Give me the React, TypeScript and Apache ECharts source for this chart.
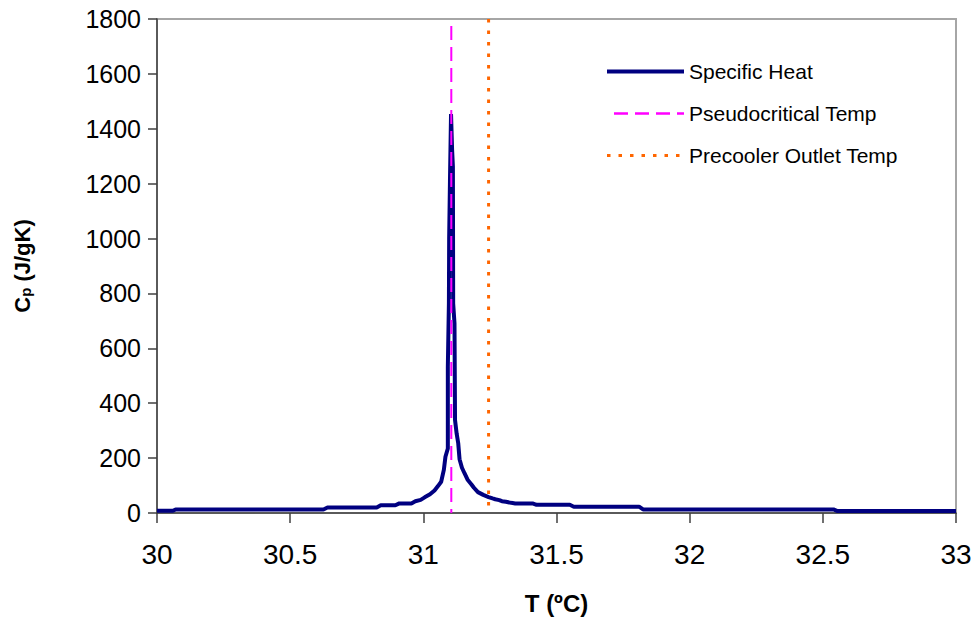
import React, { useEffect, useRef } from "react";
import * as echarts from "echarts";

// Specific heat of CO2 near the pseudocritical point
const temperatures: number[] = [
  30.0, 30.06, 30.07, 30.625, 30.64, 30.825, 30.84, 30.895, 30.91, 30.955,
  30.97, 30.99, 31.005, 31.025, 31.042, 31.055, 31.067, 31.077, 31.083, 31.092,
  31.092, 31.096, 31.097, 31.1, 31.104, 31.108, 31.111, 31.112, 31.117, 31.119,
  31.125, 31.131, 31.136, 31.145, 31.155, 31.167, 31.18, 31.19, 31.205, 31.225,
  31.245, 31.26, 31.27, 31.285, 31.295, 31.31, 31.33, 31.345, 31.41, 31.425,
  31.55, 31.565, 31.81, 31.825, 32.54, 32.555, 33.0,
];
const specificHeat: number[] = [
  8, 8, 13, 13, 20, 20, 28, 28, 35, 35,
  43, 48, 57, 68, 82, 98, 114, 157, 205, 235,
  533, 764, 1000, 1210, 1454, 1323, 1262, 764, 691, 339,
  290, 254, 196, 165, 144, 120, 105, 92, 76, 66,
  58, 53, 50, 47, 43, 41, 37, 35, 35, 30,
  30, 23, 23, 13, 13, 7, 7,
];

const pseudocriticalTemp = 31.105;
const precoolerOutletTemp = 31.245;

const xTicks = { min: 30, max: 33, interval: 0.5 };
const yTicks = { min: 0, max: 1800, interval: 200 };

const seriesNames = ["Specific Heat", "Pseudocritical Temp", "Precooler Outlet Temp"];

const FONT = "'Liberation Sans', Arial, sans-serif";

export default function App() {
  const ref = useRef<HTMLDivElement>(null);

  useEffect(() => {
    if (!ref.current) return;
    const chart = echarts.init(ref.current, undefined, { renderer: "svg" });

    const cpData = temperatures.map((t, i) => [t, specificHeat[i]]);

    chart.setOption({
      animation: false,
      backgroundColor: "#ffffff",
      textStyle: { fontFamily: FONT },
      grid: {
        left: 155,
        right: 24,
        top: 19,
        bottom: 113,
        show: true,
        borderColor: "#a6a6a6",
        borderWidth: 2,
        backgroundColor: "transparent",
      },
      legend: {
        orient: "vertical",
        left: 605,
        top: 61,
        padding: 0,
        itemWidth: 77,
        itemHeight: 14,
        itemGap: 21,
        data: [
          { name: seriesNames[0], lineStyle: { width: 4 } },
          { name: seriesNames[1], lineStyle: { width: 2.5 } },
          { name: seriesNames[2], lineStyle: { width: 3 } },
        ],
        itemStyle: { opacity: 0 },
        textStyle: { fontSize: 21, color: "#000", fontFamily: FONT },
      },
      xAxis: {
        type: "value",
        min: xTicks.min,
        max: xTicks.max,
        interval: xTicks.interval,
        name: "T (ºC)",
        nameLocation: "middle",
        nameGap: 78,
        nameTextStyle: { fontSize: 24, fontWeight: "bold", color: "#000", fontFamily: FONT },
        axisLine: { show: true, onZero: false, lineStyle: { color: "#404040", width: 1.5 } },
        axisTick: { show: true, inside: false, length: 10, lineStyle: { color: "#404040", width: 1.5 } },
        axisLabel: {
          fontSize: 28,
          color: "#000",
          margin: 27,
          fontFamily: FONT,
          formatter: (v: number) => String(v),
        },
        splitLine: { show: false },
      },
      yAxis: {
        type: "value",
        min: yTicks.min,
        max: yTicks.max,
        interval: yTicks.interval,
        name: "{c|C}{s|p}{c| (J/gK)}",
        nameLocation: "middle",
        nameGap: 124,
        nameRotate: 90,
        nameTextStyle: {
          color: "#000",
          fontFamily: FONT,
          rich: {
            c: { fontSize: 22, fontWeight: "bold", color: "#000", fontFamily: FONT, lineHeight: 22, verticalAlign: "top" },
            s: { fontSize: 15, fontWeight: "bold", color: "#000", fontFamily: FONT, lineHeight: 15, verticalAlign: "bottom", padding: [10, 0, 0, 0] },
          },
        },
        axisLine: { show: true, lineStyle: { color: "#404040", width: 1.5 } },
        axisTick: { show: true, inside: false, length: 9, lineStyle: { color: "#404040", width: 1.5 } },
        axisLabel: {
          fontSize: 25,
          color: "#000",
          margin: 16,
          fontFamily: FONT,
          formatter: (v: number) => String(v),
        },
        splitLine: { show: false },
      },
      series: [
        {
          name: seriesNames[0],
          type: "line",
          data: cpData,
          showSymbol: false,
          symbol: "none",
          lineStyle: { color: "#000080", width: 4 },
          itemStyle: { color: "#000080" },
          z: 2,
        },
        {
          name: seriesNames[1],
          type: "line",
          data: [
            [pseudocriticalTemp, yTicks.max],
            [pseudocriticalTemp, yTicks.min],
          ],
          showSymbol: false,
          symbol: "none",
          lineStyle: { color: "#ff00ff", width: 2, type: [14, 7], dashOffset: 14 },
          itemStyle: { color: "#ff00ff" },
          z: 3,
        },
        {
          name: seriesNames[2],
          type: "line",
          data: [
            [precoolerOutletTemp, yTicks.max],
            [precoolerOutletTemp, yTicks.min],
          ],
          showSymbol: false,
          symbol: "none",
          lineStyle: { color: "#ff6600", width: 3, type: [3.5, 8] },
          itemStyle: { color: "#ff6600" },
          z: 4,
        },
      ],
    });

    return () => chart.dispose();
  }, []);

  return <div ref={ref} style={{ width: 980, height: 626, margin: -8 }} />;
}
